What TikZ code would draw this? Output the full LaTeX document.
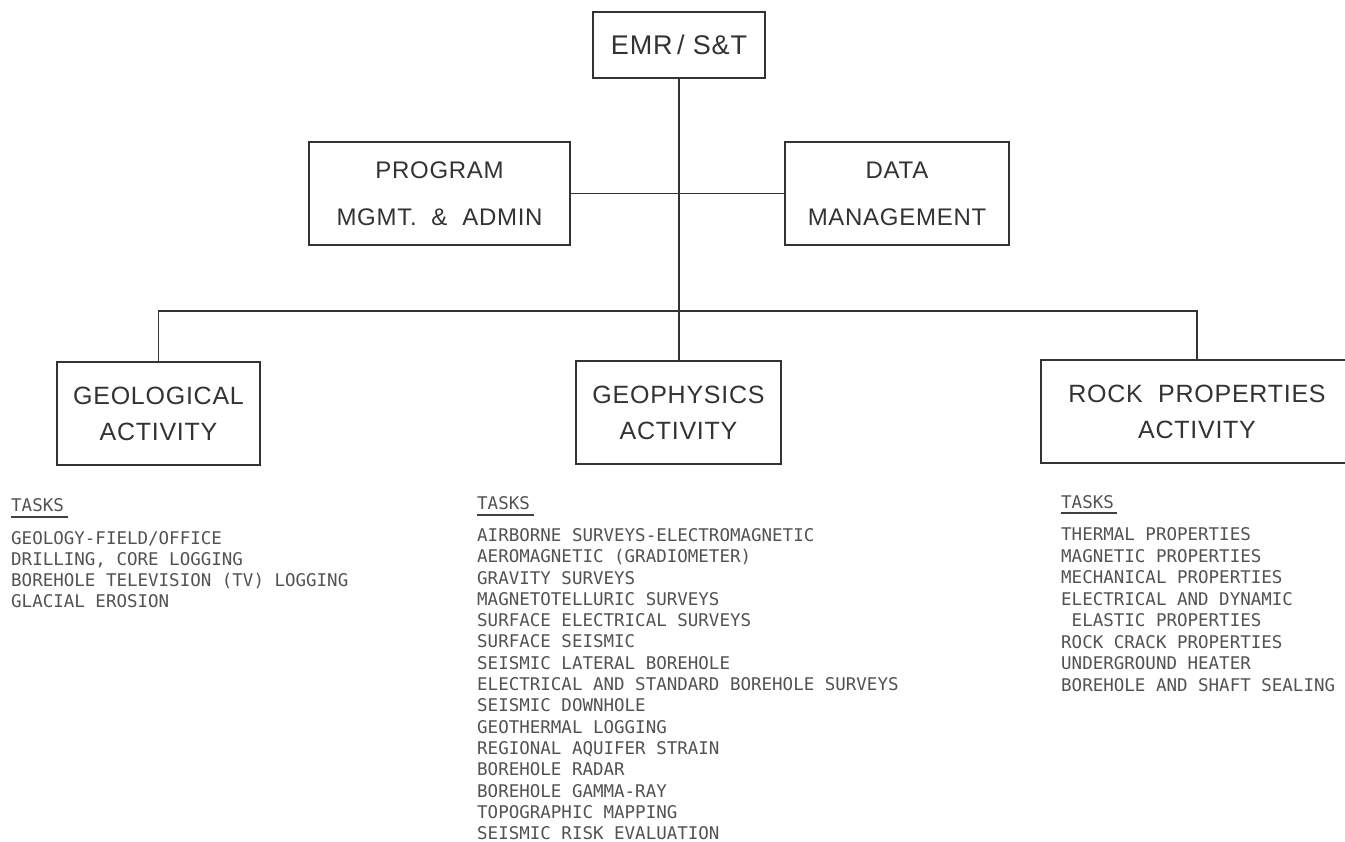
\documentclass[tikz,border=0pt]{standalone}
\usepackage{fontspec}
\newfontfamily\boxfont[LetterSpace=3]{Liberation Sans}
\newfontfamily\taskfont{DejaVu Sans Mono}
\begin{document}
\begin{tikzpicture}[x=1pt,y=-1pt,
  orgbox/.style={draw=black!80, line width=1.9pt, rectangle, inner sep=0pt,
                 align=center, text=black!80},
  link/.style={draw=black!80, line width=1.6pt},
  uline/.style={draw=black!75, line width=1.3pt},
  task/.style={inner sep=0pt, anchor=base west, text=black!68,
               font=\taskfont\fontsize{17.5}{21}\selectfont},
]
\useasboundingbox (0,0) rectangle (1345,842);
\clip (0,0) rectangle (1345,842);
\fill[white] (0,0) rectangle (1345,842);

% organisation boxes
\node[orgbox, minimum width=172pt, minimum height=66pt,
      font=\boxfont\fontsize{27}{34}\selectfont] (emr) at (679,45) {EMR\,/ S\&T};
\node[orgbox, minimum width=261pt, minimum height=103pt,
      font=\boxfont\fontsize{24}{47}\selectfont] (pma) at (439.5,193.5)
      {PROGRAM\\MGMT.\ \ \&\ \ ADMIN};
\node[orgbox, minimum width=224pt, minimum height=103pt,
      font=\boxfont\fontsize{24}{47}\selectfont] (dm) at (897,193.5)
      {DATA\\MANAGEMENT};
\node[orgbox, minimum width=203pt, minimum height=103pt,
      font=\boxfont\fontsize{25}{36}\selectfont] (geo) at (158.5,413.5)
      {GEOLOGICAL\\ACTIVITY};
\node[orgbox, minimum width=205pt, minimum height=103pt,
      font=\boxfont\fontsize{25}{36}\selectfont] (gp) at (678.5,412.5)
      {GEOPHYSICS\\ACTIVITY};
\node[orgbox, minimum width=312pt, minimum height=103pt,
      font=\boxfont\fontsize{25}{36}\selectfont] (rock) at (1197,411.5)
      {ROCK\ \ PROPERTIES\\ACTIVITY};

% connectors
\coordinate (bus) at (678,311);
\draw[link] (emr.south) -- (emr.south |- gp.north);
\draw[link] (pma.east) -- (dm.west);
\draw[link] (geo.north) |- (bus) -| (rock.north);

% task lists
\node[task] (tgeo) at (11,511.5) {TASKS};
\draw[uline] ([yshift=-5.5pt]tgeo.base west) -- ++(57,0);
\foreach \t [count=\i] in {GEOLOGY-FIELD/OFFICE, {DRILLING, CORE LOGGING},
    BOREHOLE TELEVISION (TV) LOGGING, GLACIAL EROSION}
  \node[task] (geo-\i) at (11,522.7+21.3*\i) {\t};

\node[task] (tgp) at (477,509.5) {TASKS};
\draw[uline] ([yshift=-5.5pt]tgp.base west) -- ++(57,0);
\foreach \t [count=\i] in {AIRBORNE SURVEYS-ELECTROMAGNETIC,
    AEROMAGNETIC (GRADIOMETER), GRAVITY SURVEYS, MAGNETOTELLURIC SURVEYS,
    SURFACE ELECTRICAL SURVEYS, SURFACE SEISMIC, SEISMIC LATERAL BOREHOLE,
    ELECTRICAL AND STANDARD BOREHOLE SURVEYS, SEISMIC DOWNHOLE,
    GEOTHERMAL LOGGING, REGIONAL AQUIFER STRAIN, BOREHOLE RADAR,
    BOREHOLE GAMMA-RAY, TOPOGRAPHIC MAPPING, SEISMIC RISK EVALUATION}
  \node[task] (gp-\i) at (477,520.1+21.3*\i) {\t};

\node[task] (trock) at (1061,508.5) {TASKS};
\draw[uline] ([yshift=-4.5pt]trock.base west) -- ++(56,0);
\foreach \t [count=\i] in {THERMAL PROPERTIES, MAGNETIC PROPERTIES,
    MECHANICAL PROPERTIES, ELECTRICAL AND DYNAMIC, {\ ELASTIC PROPERTIES},
    ROCK CRACK PROPERTIES, UNDERGROUND HEATER, BOREHOLE AND SHAFT SEALING}
  \node[task] (rock-\i) at (1061,519+21.5*\i) {\t};
\end{tikzpicture}
\end{document}
